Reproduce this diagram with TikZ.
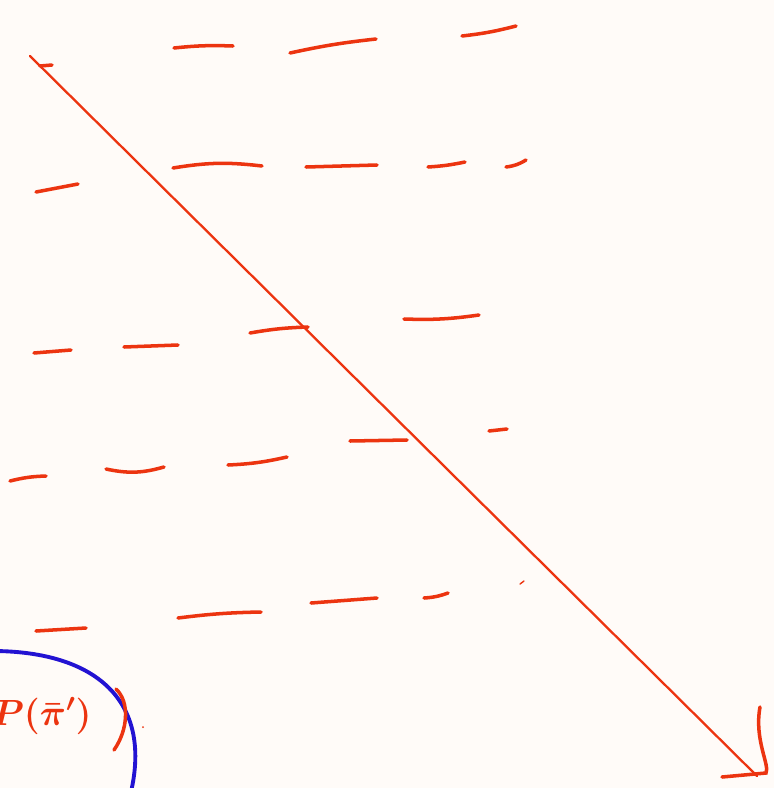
\documentclass[tikz,border=0pt]{standalone}
\definecolor{inkred}{RGB}{236,52,16}
\definecolor{inkblue}{RGB}{34,18,210}
\definecolor{paper}{RGB}{255,251,248}
\begin{document}
\begin{tikzpicture}[x=0.02cm,y=-0.02cm,
    dash stroke/.style={draw=inkred, line width=2pt, line cap=round},
    pen/.style={draw=inkred, line width=1.3pt, line cap=round}]
    \fill [paper] (0,0) rectangle (774,788);
    \clip (0,0) rectangle (774,788);
    % first row
    \draw [dash stroke] (40,66) -- (52,65);
    \draw [dash stroke] (174,48) to[bend left=4] (233,46);
    \draw [dash stroke] (290,53) to[bend left=3] (376,39);
    \draw [dash stroke] (462,36) to[bend right=4] (516,26);
    % second row
    \draw [dash stroke] (36,192) -- (78,184);
    \draw [dash stroke] (173,168) to[bend left=8] (262,166);
    \draw [dash stroke] (306,167) -- (377,165);
    \draw [dash stroke] (428,167) to[bend right=4] (465,162);
    \draw [dash stroke] (506,167) to[bend right=12] (526,160);
    % third row
    \draw [dash stroke] (34,353) -- (71,350);
    \draw [dash stroke] (124,347) -- (178,345);
    \draw [dash stroke] (250,333) to[bend left=4] (308,327);
    \draw [dash stroke] (404,319) to[bend right=5] (479,315);
    % fourth row
    \draw [dash stroke] (10,481) to[bend left=6] (46,476);
    \draw [dash stroke] (106,469) to[bend right=14] (164,467);
    \draw [dash stroke] (228,465) to[bend right=5] (287,457);
    \draw [dash stroke] (350,441) -- (407,440);
    \draw [dash stroke] (489,431) -- (507,429);
    % fifth row
    \draw [dash stroke] (36,631) -- (86,628);
    \draw [dash stroke] (178,618) to[bend left=3] (261,612);
    \draw [dash stroke] (311,603) -- (377,598);
    \draw [dash stroke] (424,598) to[bend right=8] (448,593);
    \draw [dash stroke, line width=0.8pt] (520,584) -- (524,581);
    % arrow
    \coordinate (start) at (30,56);
    \coordinate (tip) at (757,776);
    \draw [pen] (start) -- (tip);
    \draw [dash stroke] (760,707) .. controls (754,740) and (770,765) .. (766,773) -- (722,777);
    % ellipse and label
    \draw [draw=inkblue, line width=2.2pt] (-5,651) .. controls (95,652) and (152,700) .. (131,792);
    \node [inkred, anchor=east, font=\huge\boldmath, inner sep=0pt] (label) at (92,716) {$P(\bar{\pi}')$};
    \draw [dash stroke] (116,689) .. controls (130,702) and (128,730) .. (114,750);
    \fill [inkred] (143,727) circle (1);
\end{tikzpicture}
\end{document}
